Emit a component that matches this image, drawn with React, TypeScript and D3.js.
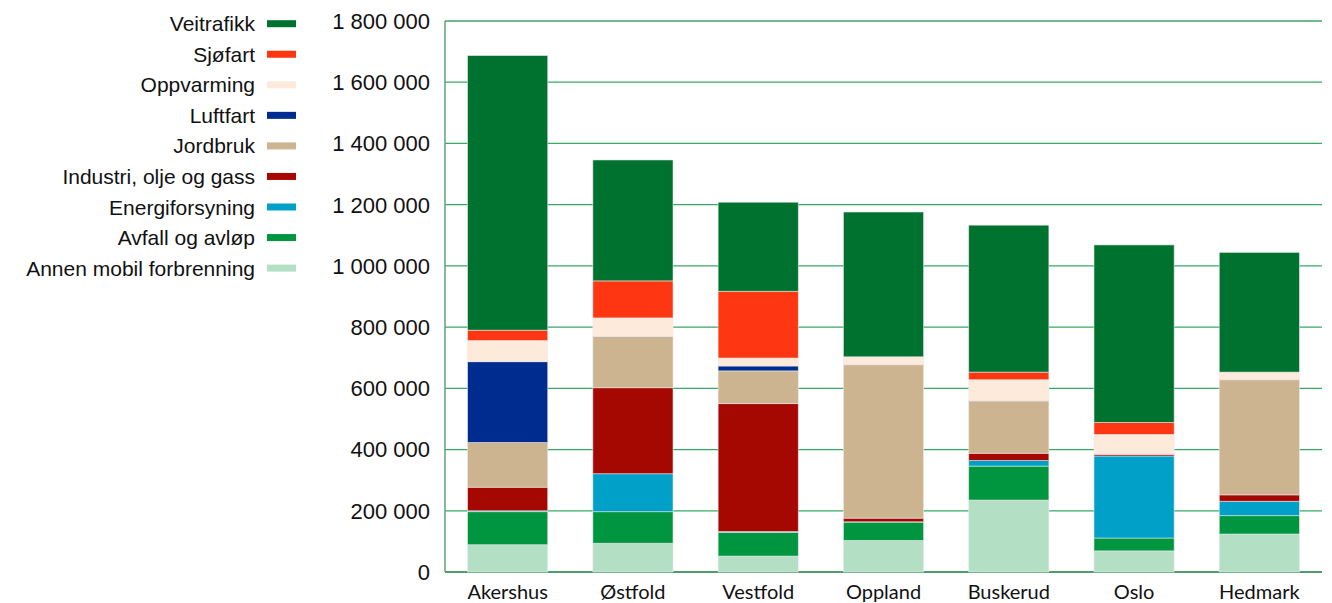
import React from "react";
import * as d3 from "d3";

const categories = ["Akershus", "Østfold", "Vestfold", "Oppland", "Buskerud", "Oslo", "Hedmark"];

// stacking order bottom -> top
const seriesNames = [
  "Annen mobil forbrenning",
  "Avfall og avløp",
  "Energiforsyning",
  "Industri, olje og gass",
  "Jordbruk",
  "Luftfart",
  "Oppvarming",
  "Sjøfart",
  "Veitrafikk",
];

const annenMobil = [89000, 94000, 52000, 103000, 235000, 69000, 124000];
const avfall = [108000, 103000, 77000, 60000, 111000, 42000, 60000];
const energi = [3000, 124000, 3000, 1000, 18000, 268000, 47000];
const industri = [77000, 281000, 418000, 12000, 24000, 5500, 21000];
const jordbruk = [146000, 167000, 107000, 501000, 171000, 1000, 376000];
const luftfart = [264000, 1000, 16000, 1000, 1000, 1000, 1000];
const oppvarming = [69000, 60000, 26000, 25000, 68000, 63000, 24000];
const sjofart = [34000, 121000, 218000, 0, 25000, 39000, 0];
const veitrafikk = [897000, 395000, 291000, 473000, 480000, 580000, 391000];

const seriesValues = [annenMobil, avfall, energi, industri, jordbruk, luftfart, oppvarming, sjofart, veitrafikk];

const colors: Record<string, string> = {
  "Veitrafikk": "#00722f",
  "Sjøfart": "#ff3612",
  "Oppvarming": "#fdeadb",
  "Luftfart": "#002b8f",
  "Jordbruk": "#cbb48f",
  "Industri, olje og gass": "#a50800",
  "Energiforsyning": "#00a0c8",
  "Avfall og avløp": "#00953f",
  "Annen mobil forbrenning": "#b3dfc4",
};

const legendOrder = [
  "Veitrafikk",
  "Sjøfart",
  "Oppvarming",
  "Luftfart",
  "Jordbruk",
  "Industri, olje og gass",
  "Energiforsyning",
  "Avfall og avløp",
  "Annen mobil forbrenning",
];

const yTicks = [0, 200000, 400000, 600000, 800000, 1000000, 1200000, 1400000, 1600000, 1800000];

const W = 1332;
const H = 603;
const plot = { left: 445, right: 1322, top: 21, bottom: 572 };

export default function App() {
  const x = d3.scaleBand<string>().domain(categories).range([plot.left, plot.right]).paddingInner(0.36).paddingOuter(0.18);
  const y = d3.scaleLinear().domain([0, 1800000]).range([plot.bottom, plot.top]);

  const rows = categories.map((c, i) => {
    const r: Record<string, any> = { cat: c };
    seriesNames.forEach((s, k) => (r[s] = seriesValues[k][i]));
    return r;
  });
  const stack = d3.stack<Record<string, any>>().keys(seriesNames)(rows);

  const fmt = (v: number) => d3.format(",")(v).replace(/,/g, " ");

  return (
    <svg width={W} height={H} style={{ position: "absolute", left: 0, top: 0, background: "#fff" }}>
      {/* gridlines */}
      {yTicks.map((t) => (
        <line key={t} x1={plot.left} x2={plot.right} y1={y(t)} y2={y(t)} stroke={t === 0 ? "#4f9d6e" : "#3aa866"} strokeWidth={t === 0 ? 2 : 1.3} />
      ))}
      <line x1={plot.left} x2={plot.left} y1={plot.top} y2={plot.bottom} stroke="#5aa67a" strokeWidth={1.5} />
      {/* bars */}
      {stack.map((layer) => (
        <g key={layer.key} fill={colors[layer.key]}>
          {layer.map((d, i) =>
            d[1] - d[0] > 0 ? (
              <rect
                key={i}
                x={x(categories[i])}
                width={x.bandwidth()}
                y={y(d[1])}
                height={y(d[0]) - y(d[1])}
                stroke="rgba(235,235,235,0.7)"
                strokeWidth={0.8}
              />
            ) : null
          )}
        </g>
      ))}
      {/* y axis labels */}
      {yTicks.map((t) => (
        <text key={t} x={430} y={y(t)} dy="0.36em" textAnchor="end" fontFamily="'Liberation Sans', Arial, sans-serif" fontSize={22} fill="#111">
          {fmt(t)}
        </text>
      ))}
      {/* category labels */}
      {categories.map((c) => (
        <text key={c} x={(x(c) as number) + x.bandwidth() / 2} y={599} textAnchor="middle" fontFamily="Lato, 'Open Sans', sans-serif" fontSize={20} fill="#111">
          {c}
        </text>
      ))}
      {/* legend */}
      {legendOrder.map((s, i) => {
        const cy = 23.7 + i * 30.55;
        return (
          <g key={s}>
            <text x={255} y={cy} dy="0.36em" textAnchor="end" fontFamily="'Liberation Sans', Arial, sans-serif" fontSize={21} fill="#111">
              {s}
            </text>
            <rect x={267} y={cy - 3.5} width={29} height={7} fill={colors[s]} />
          </g>
        );
      })}
    </svg>
  );
}
